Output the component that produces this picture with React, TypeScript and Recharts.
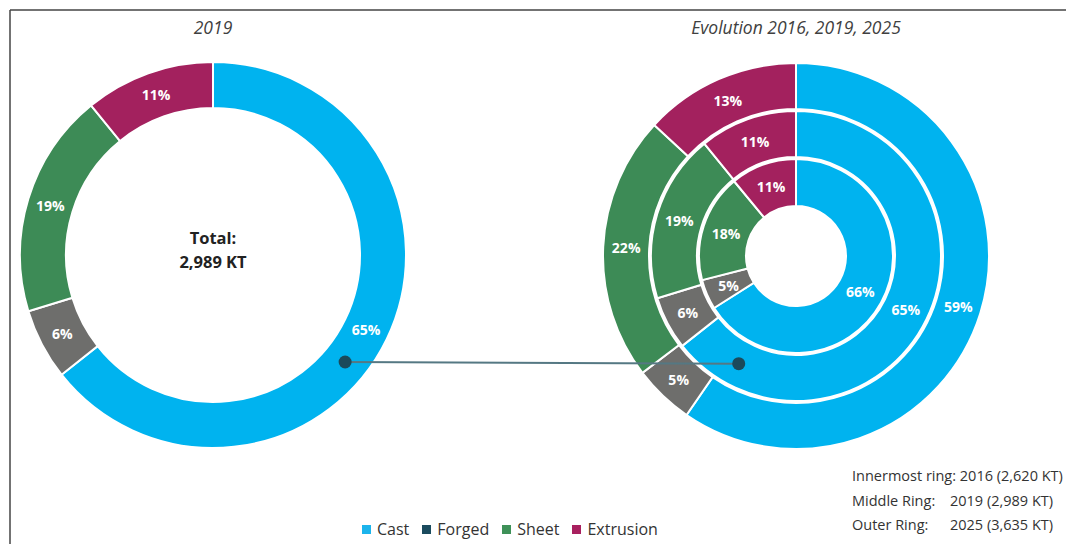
import { PieChart, Pie, Cell, Legend, Customized } from 'recharts';

// product segments, clockwise from 12 o'clock
const segments = ['Cast', 'Forged', 'Sheet', 'Extrusion'];
const share2016 = [66, 5, 18, 11];
const share2019 = [65, 6, 19, 11];
const share2025 = [59, 5, 22, 13];

const sliceColors = ['#00b3ef', '#6e6e6c', '#3d8b56', '#a3215e'];
const legendColors = ['#1cb4ec', '#1a4b5e', '#3e9158', '#a8205f'];

const ringNames = ['Innermost ring:', 'Middle Ring:', 'Outer Ring:'];
const ringYears = ['2016', '2019', '2025'];
const ringTotals = ['2,620 KT', '2,989 KT', '3,635 KT'];

const totalLabel = 'Total:';
const totalValue = '2,989 KT';

const W = 1066;
const H = 544;
const FONT = '"Open Sans", "Noto Sans", sans-serif';
const RAD = Math.PI / 180;

const LEFT = { cx: 213, cy: 255 };
const RIGHT = { cx: 796, cy: 256 };

const toRows = (values: number[]) =>
  segments.map((name, i) => ({ name, value: values[i] }));

const data2016 = toRows(share2016);
const data2019 = toRows(share2019);
const data2025 = toRows(share2025);

const renderPct = (props: any) => {
  const { cx, cy, midAngle, innerRadius, outerRadius, value } = props;
  const r = (innerRadius + outerRadius) / 2;
  const x = cx + r * Math.cos(-midAngle * RAD);
  const y = cy + r * Math.sin(-midAngle * RAD);
  return (
    <text
      x={x}
      y={y}
      fill="#fff"
      textAnchor="middle"
      dominantBaseline="central"
      fontSize={14}
      fontWeight={700}
      fontFamily={FONT}
    >
      {value}%
    </text>
  );
};

// point on a ring at a given angle (deg, counter-clockwise from 3 o'clock)
const ringPoint = (c: { cx: number; cy: number }, r: number, deg: number) => ({
  x: c.cx + r * Math.cos(deg * RAD),
  y: c.cy - r * Math.sin(deg * RAD),
});

const Texts = () => (
  <g fontFamily={FONT}>
    <line x1={10} y1={10} x2={W} y2={10} stroke="#444" strokeWidth={1.5} />
    <line x1={10} y1={10} x2={10} y2={H} stroke="#444" strokeWidth={1.5} />

    <text x={LEFT.cx} y={34} textAnchor="middle" fontSize={17.5} fontStyle="italic" fill="#404040">
      2019
    </text>
    <text x={RIGHT.cx} y={34} textAnchor="middle" fontSize={17.5} fontStyle="italic" fill="#404040">
      Evolution 2016, 2019, 2025
    </text>

    <text x={LEFT.cx} y={244} textAnchor="middle" fontSize={16.5} fontWeight={700} fill="#222">
      {totalLabel}
    </text>
    <text x={LEFT.cx} y={268} textAnchor="middle" fontSize={16.5} fontWeight={700} fill="#222">
      {totalValue}
    </text>

    {ringNames.map((n, i) => (
      <g key={n}>
        {i === 0 ? (
          <text x={852} y={481} fontSize={14.5} fill="#333">
            {`${n} ${ringYears[i]} (${ringTotals[i]})`}
          </text>
        ) : (
          <>
            <text x={852} y={481 + i * 24.5} fontSize={14.5} fill="#333">
              {n}
            </text>
            <text x={950} y={481 + i * 24.5} fontSize={14.5} fill="#333">
              {`${ringYears[i]} (${ringTotals[i]})`}
            </text>
          </>
        )}
      </g>
    ))}
  </g>
);

// connector between the two 2019 rings, drawn above the pies
const Connector = () => {
  const a = ringPoint(LEFT, 170, -39);
  const b = ringPoint(RIGHT, 122, -118);
  return (
    <svg
      width={W}
      height={H}
      style={{ position: 'absolute', left: 0, top: 0, pointerEvents: 'none' }}
    >
      <line x1={a.x} y1={a.y} x2={b.x} y2={b.y} stroke="#557883" strokeWidth={2} />
      <circle cx={a.x} cy={a.y} r={6.5} fill="#1b4a5b" />
      <circle cx={b.x} cy={b.y} r={6.5} fill="#1b4a5b" />
    </svg>
  );
};

const LegendRow = () => (
  <div style={{ display: 'flex', gap: 13, fontFamily: FONT, fontSize: 16, color: '#333' }}>
    {segments.map((s, i) => (
      <div key={s} style={{ display: 'flex', alignItems: 'center', gap: 6 }}>
        <span style={{ width: 9, height: 9, background: legendColors[i], display: 'inline-block' }} />
        <span>{s}</span>
      </div>
    ))}
  </div>
);

const ring = (
  key: string,
  data: { name: string; value: number }[],
  c: { cx: number; cy: number },
  inner: number,
  outer: number,
) => (
  <Pie
    key={key}
    data={data}
    dataKey="value"
    nameKey="name"
    cx={c.cx}
    cy={c.cy}
    innerRadius={inner}
    outerRadius={outer}
    startAngle={90}
    endAngle={-270}
    stroke="#fff"
    strokeWidth={2}
    label={renderPct}
    labelLine={false}
    isAnimationActive={false}
  >
    {data.map((d, i) => (
      <Cell key={d.name} fill={sliceColors[i]} />
    ))}
  </Pie>
);

export default function App() {
  return (
    <div style={{ position: 'absolute', left: 0, top: 0, width: W, height: H, background: '#fff' }}>
      <PieChart width={W} height={H} margin={{ top: 0, right: 0, bottom: 0, left: 0 }}>
        {ring('left2019', data2019, LEFT, 147, 193)}
        {ring('r2016', data2016, RIGHT, 50, 97)}
        {ring('r2019', data2019, RIGHT, 99, 145)}
        {ring('r2025', data2025, RIGHT, 147, 193)}
        <Customized component={<Texts />} />
        <Legend
          content={() => <LegendRow />}
          wrapperStyle={{ position: 'absolute', left: 362, top: 518, width: 340 }}
        />
      </PieChart>
      <Connector />
    </div>
  );
}
